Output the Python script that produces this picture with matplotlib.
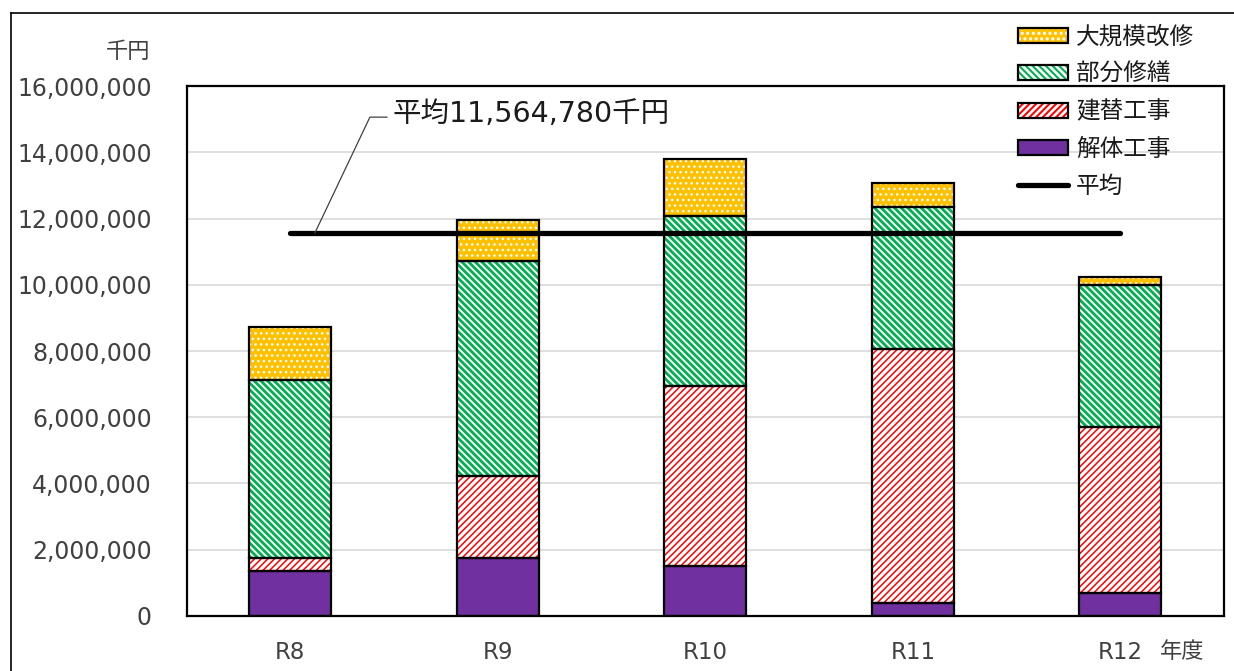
import matplotlib as mpl
import matplotlib.pyplot as plt
from matplotlib.lines import Line2D
from matplotlib.patches import Rectangle
import numpy as np

plt.rcParams['font.family'] = ['DejaVu Sans', 'Noto Sans CJK JP']
plt.rcParams['hatch.linewidth'] = 1.5

# datos (千円)
years = ['R8', 'R9', 'R10', 'R11', 'R12']
kaitai = [1350000, 1740000, 1520000, 390000, 680000]       # 解体工事
tatekae = [390000, 2500000, 5420000, 7660000, 5030000]     # 建替工事
bubun = [5390000, 6490000, 5140000, 4310000, 4270000]      # 部分修繕
daikibo = [1590000, 1240000, 1720000, 700000, 250000]      # 大規模改修
heikin = 11564780

# nombre, valores, relleno, color de trama, trama, grosor de trama
series = [
    ('解体工事', kaitai, '#7030A0', None, None, 1.0),
    ('建替工事', tatekae, 'white', '#FF0000', '/////', 1.1),
    ('部分修繕', bubun, 'white', '#00B050', '\\\\\\\\\\', 2.0),
    ('大規模改修', daikibo, '#FFC000', 'white', '...', 1.0),
]

fig = plt.figure(figsize=(12.34, 6.71), dpi=100)
ax = fig.add_axes([0.1513, 0.082, 0.8406, 0.7898])

x = np.arange(len(years))
w = 0.395
bottom = np.zeros(len(years))
handles = {}
for name, vals, fc, hc, hatch, hlw in series:
    vals = np.array(vals)
    ax.bar(x, vals, w, bottom=bottom, color=fc, linewidth=0, zorder=2)
    parts = [Rectangle((0, 0), 1, 1, facecolor=fc, linewidth=0)]
    if hatch:
        with mpl.rc_context({'hatch.linewidth': hlw}):
            ax.bar(x, vals, w, bottom=bottom, color='none', edgecolor=hc,
                   hatch=hatch, linewidth=0, zorder=3)
            parts.append(Rectangle((0, 0), 1, 1, facecolor='none', edgecolor=hc,
                                   hatch=hatch, linewidth=0))
    ax.bar(x, vals, w, bottom=bottom, fill=False, edgecolor='black',
           linewidth=1.6, zorder=4)
    parts.append(Rectangle((0, 0), 1, 1, fill=False, edgecolor='black', linewidth=1.6))
    handles[name] = tuple(parts)
    bottom += vals

# linea de promedio
ax.plot([x[0], x[-1]], [heikin, heikin], color='black', linewidth=3.8,
        solid_capstyle='round', zorder=5)

# etiqueta del promedio
ax.plot([0.118, 0.383, 0.465], [heikin, 15.06e6, 15.06e6], color='#404040',
        linewidth=0.9, zorder=5)
ax.text(0.494, 15.17e6, f'平均{heikin:,}千円', fontsize=20.5, va='center',
        ha='left', color='#1a1a1a')

ax.set_xlim(-0.5, 4.5)
ax.set_ylim(0, 16e6)
ax.set_xticks(x)
ax.set_xticklabels(years)
ax.set_yticks(np.arange(0, 16e6 + 1, 2e6))
ax.yaxis.set_major_formatter(plt.FuncFormatter(lambda v, p: f'{int(v):,}'))
ax.tick_params(axis='both', length=0, labelsize=16.5, colors='#404040')
ax.tick_params(axis='y', pad=25, labelsize=17)
ax.tick_params(axis='x', pad=18)
ax.grid(axis='y', color='#D9D9D9', linewidth=1.2)
ax.set_axisbelow(True)
for s in ax.spines.values():
    s.set_linewidth(1.6)
    s.set_color('black')

fig.text(150 / 1234, 1 - 52 / 671, '千円', fontsize=16, ha='right', va='center',
         color='#404040')
fig.text(1182 / 1234, 1 - 652 / 671, '年度', fontsize=16, ha='center', va='center',
         color='#404040')

# marco exterior
fig.add_artist(Line2D([11 / 1234, 11 / 1234], [0, 1 - 13 / 671], color='black',
                      linewidth=1.2, transform=fig.transFigure))
fig.add_artist(Line2D([11 / 1234, 1], [1 - 13 / 671, 1 - 13 / 671], color='black',
                      linewidth=1.2, transform=fig.transFigure))

avg_handle = Line2D([], [], color='black', linewidth=3.8, solid_capstyle='round')
order = ['大規模改修', '部分修繕', '建替工事', '解体工事']
leg = ax.legend([handles[k] for k in order] + [avg_handle], order + ['平均'],
                loc='upper left', bbox_to_anchor=(1018 / 1234, 1 - 25 / 671),
                bbox_transform=fig.transFigure, frameon=False, fontsize=17,
                handlelength=2.12, handleheight=0.6, handletextpad=0.34,
                labelspacing=0.56, borderpad=0, borderaxespad=0)
for t in leg.get_texts():
    t.set_color('#1a1a1a')

plt.savefig('out.png', dpi=100)
